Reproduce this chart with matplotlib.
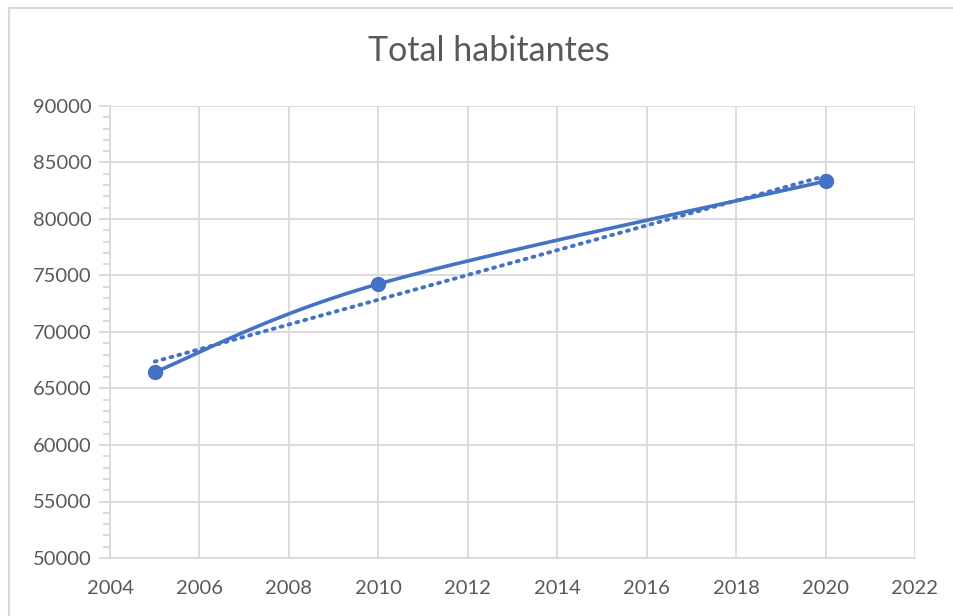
import matplotlib.pyplot as plt
import numpy as np
from matplotlib.patches import Rectangle
from matplotlib.ticker import MultipleLocator

# population per census year
years = [2005, 2010, 2020]
habitantes = [66450, 74250, 83350]

title = 'Total habitantes'
blue = '#4472c4'
grey_text = '#595959'
grid_col = '#d9d9d9'

plt.rcParams['font.family'] = ['Lato', 'DejaVu Sans']


def smooth_curve(x, y, n=60):
    # Excel-like smoothed line: cubic Bezier with 1/6 neighbour tangents
    x = np.asarray(x, float)
    y = np.asarray(y, float)
    xs, ys = [], []
    for i in range(len(x) - 1):
        i0 = max(i - 1, 0)
        i3 = min(i + 2, len(x) - 1)
        p0 = np.array([x[i], y[i]])
        p3 = np.array([x[i + 1], y[i + 1]])
        c1 = p0 + (np.array([x[i + 1], y[i + 1]]) - np.array([x[i0], y[i0]])) / 6
        c2 = p3 - (np.array([x[i3], y[i3]]) - np.array([x[i], y[i]])) / 6
        t = np.linspace(0, 1, n)[:, None]
        pts = ((1 - t) ** 3) * p0 + 3 * ((1 - t) ** 2) * t * c1 + 3 * (1 - t) * t ** 2 * c2 + t ** 3 * p3
        xs.extend(pts[:, 0])
        ys.extend(pts[:, 1])
    return np.array(xs), np.array(ys)


fig = plt.figure(figsize=(9.54, 6.16), dpi=100)
fig.patches.append(Rectangle((9 / 954, -0.1), 1.2, 1 - 8 / 616 + 0.1, transform=fig.transFigure,
                             fill=False, edgecolor='#d9d9d9', linewidth=1.5))

ax = fig.add_axes([110 / 954, 58 / 616, 805 / 954, 452 / 616])

sx, sy = smooth_curve(years, habitantes)
ax.plot(sx, sy, color=blue, linewidth=2.6, solid_capstyle='round', zorder=3)
ax.plot(years, habitantes, 'o', color=blue, markersize=10, zorder=4)

# linear trend line
coef = np.polyfit(years, habitantes, 1)
tx = np.array([years[0], years[-1]])
ax.plot(tx, np.polyval(coef, tx), color=blue, linewidth=2.8, linestyle=(0, (0.5, 1.6)),
        dash_capstyle='round', zorder=2)

ax.set_xlim(2004, 2022)
ax.set_ylim(50000, 90000)
ax.xaxis.set_major_locator(MultipleLocator(2))
ax.yaxis.set_major_locator(MultipleLocator(5000))
ax.yaxis.set_minor_locator(MultipleLocator(1000))

ax.grid(True, which='major', color=grid_col, linewidth=1.3)
ax.set_axisbelow(True)
for side in ['top', 'right']:
    ax.spines[side].set_visible(False)
for side in ['left', 'bottom']:
    ax.spines[side].set_color(grid_col)
    ax.spines[side].set_linewidth(1.3)

ax.tick_params(axis='x', length=0, pad=16, labelsize=14.5, labelcolor=grey_text)
ax.tick_params(axis='y', which='major', length=8, width=1.3, color=grid_col, pad=5,
               labelsize=14.5, labelcolor=grey_text)
ax.tick_params(axis='y', which='minor', length=5, width=1.3, color=grid_col)

fig.text(489 / 954, 1 - 51 / 616, title, ha='center', va='center', fontsize=24.5, color=grey_text)

fig.savefig('out.png', dpi=100)
